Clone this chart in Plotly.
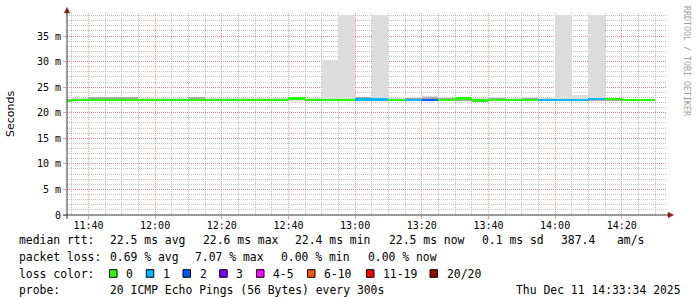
import plotly.graph_objects as go
from datetime import datetime, timedelta

# ---------------- data ----------------
DAY = "2025-12-11"
interval_start = ["11:30", "11:35", "11:40", "11:45", "11:50", "11:55",
                  "12:00", "12:05", "12:10", "12:15", "12:20", "12:25",
                  "12:30", "12:35", "12:40", "12:45", "12:50", "12:55",
                  "13:00", "13:05", "13:10", "13:15", "13:20", "13:25",
                  "13:30", "13:35", "13:40", "13:45", "13:50", "13:55",
                  "14:00", "14:05", "14:10", "14:15", "14:20", "14:25"]
median_ms = [22.3, 22.5, 22.5, 22.5, 22.5, 22.5,
             22.5, 22.5, 22.5, 22.5, 22.5, 22.5,
             22.5, 22.5, 22.8, 22.5, 22.5, 22.5,
             22.6, 22.6, 22.5, 22.5, 22.5, 22.5,
             22.8, 22.4, 22.5, 22.5, 22.5, 22.5,
             22.5, 22.5, 22.7, 22.7, 22.5, 22.5]
loss_count = [0, 0, 0, 0, 0, 0,
              0, 0, 0, 0, 0, 0,
              0, 0, 0, 0, 0, 0,
              1, 1, 0, 1, 2, 0,
              0, 0, 0, 0, 0, 1,
              1, 1, 1, 0, 0, 0]
smoke_min_ms = [22.2, 22.3, 22.3, 22.3, 22.3, 22.3,
                22.3, 22.3, 22.3, 22.3, 22.3, 22.3,
                22.3, 22.3, 22.3, 22.3, 22.3, 22.3,
                22.3, 22.3, 22.3, 22.3, 22.3, 22.3,
                22.2, 22.2, 22.3, 22.3, 22.3, 22.3,
                22.3, 22.3, 22.2, 22.2, 22.3, 22.3]
smoke_max_ms = [22.6, 22.9, 23.1, 23.1, 23.1, 22.8,
                22.8, 22.8, 23.1, 22.8, 22.8, 22.8,
                22.8, 22.8, 23.0, 22.8, 30.3, 39.1,
                23.1, 39.1, 22.8, 23.1, 23.3, 23.0,
                22.9, 22.8, 23.0, 22.8, 23.0, 22.8,
                39.1, 23.4, 39.1, 22.9, 22.7, 22.7]
core_min_ms = [22.3, 22.4, 22.4, 22.4, 22.4, 22.4,
               22.4, 22.4, 22.4, 22.4, 22.4, 22.4,
               22.4, 22.4, 22.5, 22.4, 22.4, 22.4,
               22.4, 22.4, 22.4, 22.4, 22.4, 22.4,
               22.35, 22.3, 22.4, 22.4, 22.4, 22.4,
               22.4, 22.4, 22.35, 22.35, 22.4, 22.4]
core_max_ms = [22.5, 22.7, 23.0, 23.0, 23.05, 22.7,
               22.7, 22.7, 23.05, 22.7, 22.7, 22.7,
               22.7, 22.7, 22.95, 22.7, 22.75, 22.75,
               23.0, 22.95, 22.7, 22.9, 23.1, 22.9,
               22.9, 22.6, 22.95, 22.7, 22.95, 22.7,
               22.7, 22.7, 22.9, 22.85, 22.7, 22.7]

loss_labels = ["0", "1", "2", "3", "4-5", "6-10", "11-19", "20/20"]
loss_colors = ["#26ff00", "#00b8ff", "#0059ff", "#7e00ff",
               "#ff00ff", "#ff5500", "#ff0000", "#a10000"]

y_tick_vals = [0, 5, 10, 15, 20, 25, 30, 35]
y_tick_text = ["0", "5 m", "10 m", "15 m", "20 m", "25 m", "30 m", "35 m"]
y_title = "Seconds"
window_start = "2025-12-11 11:33:34"
window_end = "2025-12-11 14:33:34"

rtt_row = [("median rtt:", 16.7), ("22.5 ms avg", 107.7), ("22.6 ms max", 200.7),
           ("22.4 ms min", 293.3), ("22.5 ms now", 387.0), ("0.1 ms sd", 479.7),
           ("387.4", 558.7), ("am/s", 615.3)]
loss_row = [("packet loss:", 16.7), ("0.69 % avg", 107.7), ("7.07 % max", 193.3),
            ("0.00 % min", 279.3), ("0.00 % now", 366.0)]
color_row_label = "loss color:"
color_box_x = [109.5, 146.3, 183.0, 219.7, 256.5, 307.5, 366.5, 430.0]
probe_row = [("probe:", 16.7), ("20 ICMP Echo Pings (56 Bytes) every 300s", 107.7),
             ("Thu Dec 11 14:33:34 2025", 513.5)]
watermark = "RRDTOOL / TOBI OETIKER"

# ---------------- geometry ----------------
W, H = 697, 297
L, R, T, B = 67, 30, 13, 82
PW, PH = W - L - R, H - T - B
Y0PX = H - B


def px(x):
    return (x - L) / PW


def py(y):
    return (Y0PX - y) / PH


def loss_index(n):
    if n <= 3:
        return n
    if n <= 5:
        return 4
    if n <= 10:
        return 5
    if n <= 19:
        return 6
    return 7


starts = [datetime.fromisoformat(f"{DAY} {s}") for s in interval_start]
STEP_MS = 300000

fig = go.Figure()
fig.add_trace(go.Bar(
    x=starts, base=smoke_min_ms,
    y=[hi - lo for hi, lo in zip(smoke_max_ms, smoke_min_ms)],
    width=STEP_MS, offset=0, marker=dict(color="#dcdcdc", line=dict(width=0)),
    hoverinfo="skip"))
fig.add_trace(go.Bar(
    x=starts, base=core_min_ms,
    y=[hi - lo for hi, lo in zip(core_max_ms, core_min_ms)],
    width=STEP_MS, offset=0, marker=dict(color="#a9a9a9", line=dict(width=0)),
    hoverinfo="skip"))
LINE_H = 0.55
fig.add_trace(go.Bar(
    x=starts, base=[m - LINE_H / 2 for m in median_ms],
    y=[LINE_H] * len(median_ms),
    width=STEP_MS, offset=0,
    marker=dict(color=[loss_colors[loss_index(n)] for n in loss_count], line=dict(width=0)),
    hoverinfo="skip"))

MONO = "DejaVu Sans Mono"
MGRID = "rgba(225,120,120,0.7)"
GRID = "rgba(175,175,175,0.75)"

fig.update_layout(
    width=W, height=H, margin=dict(l=L, r=R, t=T, b=B),
    paper_bgcolor="white", plot_bgcolor="white",
    barmode="overlay", bargap=0, showlegend=False,
    font=dict(family=MONO, size=10, color="#000"),
    xaxis=dict(
        type="date", range=[window_start, window_end],
        tick0=f"{DAY} 11:40:00", dtick=20 * 60000, tickformat="%H:%M",
        showgrid=True, gridcolor=MGRID, griddash="1px,1px", gridwidth=1,
        ticks="outside", ticklen=3, tickcolor=MGRID, ticklabelstandoff=-2,
        minor=dict(dtick=STEP_MS, tick0=f"{DAY} 11:40:00", showgrid=True,
                   gridcolor=GRID, griddash="1px,1px", ticks=""),
        showline=False, zeroline=False,
        tickfont=dict(family=MONO, size=10, color="#000"),
    ),
    yaxis=dict(
        range=[0, PH / 5.114], tickvals=y_tick_vals, ticktext=y_tick_text,
        showgrid=True, gridcolor=MGRID, griddash="1px,1px", gridwidth=1,
        ticks="outside", ticklen=3, tickcolor=MGRID,
        minor=dict(dtick=1, showgrid=True, gridcolor=GRID, griddash="1px,1px", ticks=""),
        showline=False, zeroline=False,
        tickfont=dict(family=MONO, size=10, color="#000"),
    ),
)

shapes = []
AX = "#333333"
ARROW = "#8b1a1a"
# x axis line + arrow
shapes.append(dict(type="line", xref="paper", yref="paper", x0=px(63), x1=px(669), y0=0, y1=0,
                   line=dict(color=AX, width=1), layer="above"))
shapes.append(dict(type="path", xref="paper", yref="paper",
                   path=f"M {px(673.5)} {py(215)} L {px(668)} {py(212.3)} L {px(668)} {py(217.7)} Z",
                   fillcolor=ARROW, line=dict(color=ARROW, width=0.5), layer="above"))
# y axis line + arrow
shapes.append(dict(type="line", xref="paper", yref="paper", x0=0, x1=0, y0=py(219), y1=py(12),
                   line=dict(color=AX, width=1), layer="above"))
shapes.append(dict(type="path", xref="paper", yref="paper",
                   path=f"M {px(67)} {py(7.5)} L {px(64.3)} {py(13)} L {px(69.7)} {py(13)} Z",
                   fillcolor=ARROW, line=dict(color=ARROW, width=0.5), layer="above"))

LEG_FONT = dict(family=MONO, size=11.4, color="#000")
ann = []


def text_at(t, x, y, font=LEG_FONT):
    ann.append(dict(text=t, x=px(x), y=py(y), xref="paper", yref="paper",
                    xanchor="left", yanchor="middle", showarrow=False, font=font))


ROW_Y = [240.5, 257.0, 273.5, 289.5]
for t, x in rtt_row:
    text_at(t, x, ROW_Y[0])
for t, x in loss_row:
    text_at(t, x, ROW_Y[1])
text_at(color_row_label, 16.7, ROW_Y[2])
for lab, col, bx in zip(loss_labels, loss_colors, color_box_x):
    shapes.append(dict(type="rect", xref="paper", yref="paper",
                       x0=px(bx), x1=px(bx + 7.5), y0=py(ROW_Y[2] + 3.8), y1=py(ROW_Y[2] - 3.8),
                       fillcolor=col, line=dict(color="#000", width=1), layer="above"))
    text_at(lab, bx + 14.5, ROW_Y[2])
for t, x in probe_row:
    text_at(t, x, ROW_Y[3])

# y title
ann.append(dict(text=y_title, x=px(10), y=py(114), xref="paper", yref="paper",
                xanchor="center", yanchor="middle", textangle=-90, showarrow=False,
                font=dict(family="DejaVu Sans", size=11, color="#000")))
# watermark
ann.append(dict(text=watermark, x=px(687), y=py(4), xref="paper", yref="paper",
                xanchor="center", yanchor="top", textangle=90, showarrow=False,
                font=dict(family=MONO, size=8.3, color="#a0a0a0")))

fig.update_layout(shapes=shapes, annotations=ann)
fig.write_html("out.html")
